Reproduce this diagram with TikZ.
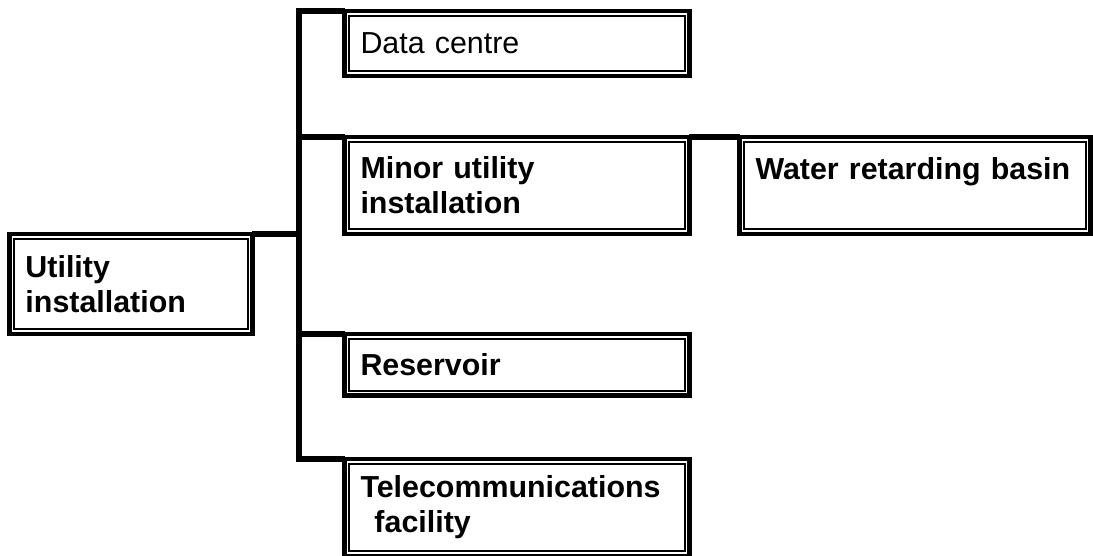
\documentclass[tikz,border=0pt]{standalone}
\usepackage{fontspec}
\setmainfont{Liberation Sans}
\usepackage{tikz}

\begin{document}
\begin{tikzpicture}[x=0.02cm,y=-0.02cm,
    box/.style={draw,line width=2.6pt,outer sep=0pt,anchor=north west,inner xsep=0.32cm,align=left,font=\fontsize{17.3}{19.8}\selectfont},
    link/.style={line width=3pt,line join=miter}]
   \clip (0,0) rectangle (1093,555);
   \node[box,minimum width=4.86cm,minimum height=2cm,text width=4.22cm] (util) at (9.5,234) {\bfseries Utility\\\bfseries installation};
   \node[box,minimum width=6.9cm,minimum height=1.3cm,text width=6.26cm] (dc) at (344.5,11) {Data centre};
   \node[box,minimum width=6.9cm,minimum height=1.94cm,text width=6.26cm] (minor) at (344.5,137) {\bfseries Minor utility\\\bfseries installation};
   \node[box,minimum width=7.02cm,minimum height=1.94cm,text width=6.38cm] (water) at (739.5,137) {\bfseries Water retarding basin\\\mbox{}};
   \node[box,minimum width=6.9cm,minimum height=1.23cm,text width=6.26cm] (res) at (344.5,334) {\bfseries Reservoir};
   \node[box,minimum width=6.9cm,minimum height=1.94cm,text width=6.26cm] (tele) at (344.5,459) {\bfseries Telecommunications\\\hspace*{0.28cm}\bfseries facility};
   \foreach \n in {util,dc,minor,water,res,tele} {\draw[line width=1.2pt] ([shift={(0.095cm,-0.095cm)}]\n.north west) rectangle ([shift={(-0.095cm,0.095cm)}]\n.south east);}
   \coordinate (trunktop) at (299,11);
   \coordinate (trunkbot) at (299,459);
   \draw[link] (dc.north west) -- (trunktop) -- (trunkbot) -- (tele.north west);
   \draw[link] (util.north east) -- (util.north east -| trunktop);
   \foreach \n in {minor,res} {\draw[link] (\n.north west -| trunktop) -- (\n.north west);}
   \draw[link] (minor.north east) -- (water.north west);
\end{tikzpicture}
\end{document}
